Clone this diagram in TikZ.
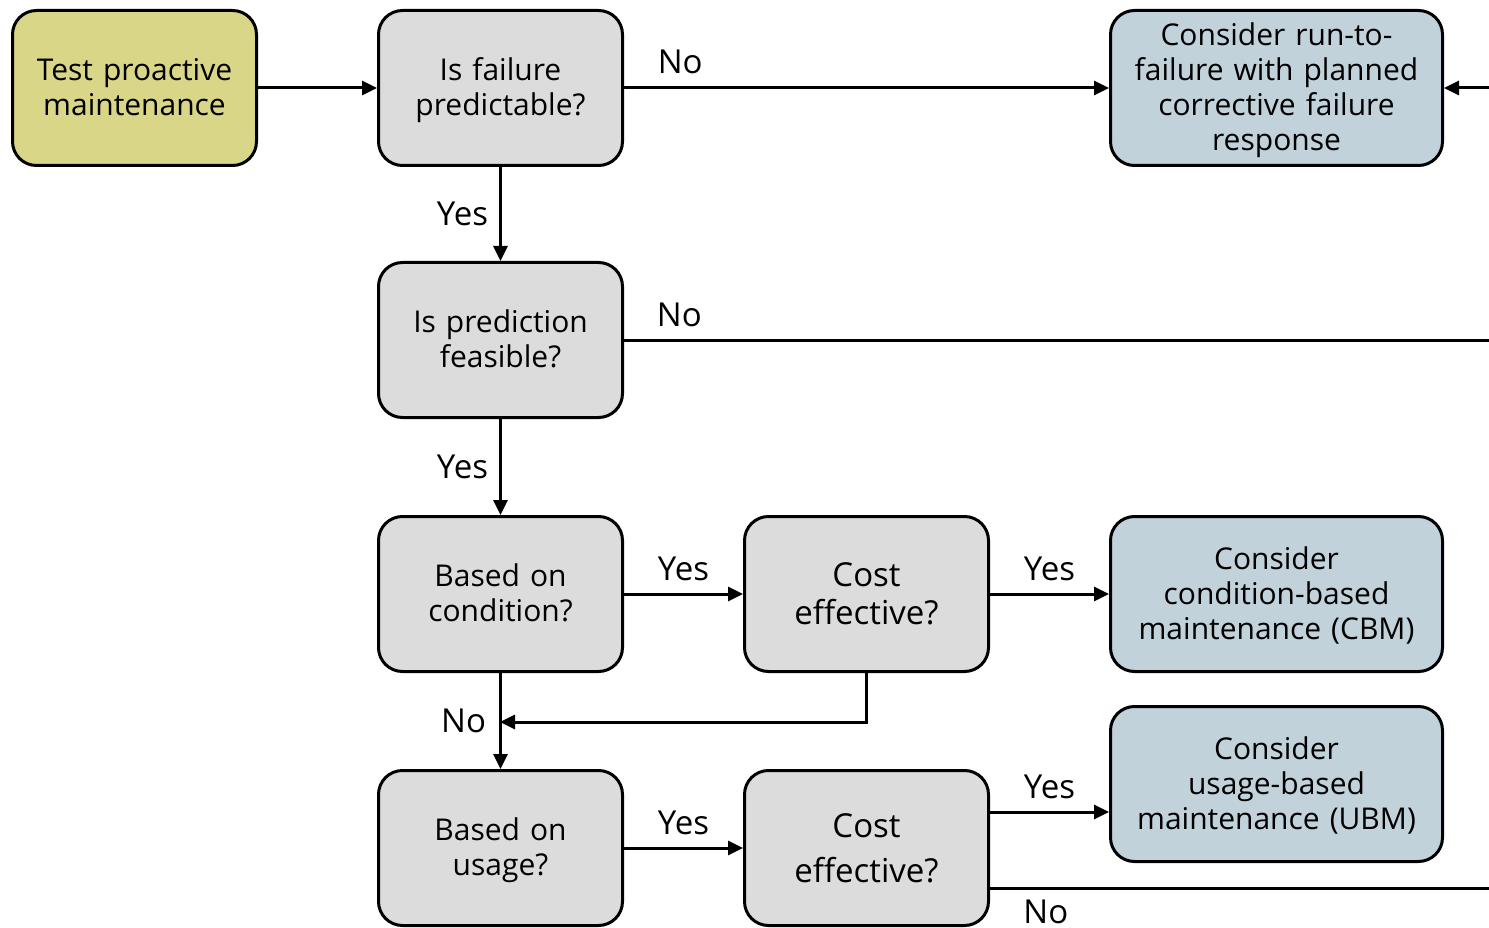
\documentclass[tikz,border=0pt]{standalone}
\usepackage{fontspec}
\setmainfont{Open Sans}
\usetikzlibrary{arrows.meta}
\definecolor{startfill}{HTML}{D9D687}
\definecolor{askfill}{HTML}{DCDCDC}
\definecolor{endfill}{HTML}{C1D2DA}
% invisible rule that fixes the height of the first and the depth of the last line
\newcommand\linefix[2]{\rule[-#1]{0pt}{#2}}
\tikzset{
  box/.style={draw=black, line width=3pt, rounded corners=24pt, align=center,
    minimum height=155pt, inner sep=0pt, font=\fontsize{30}{35}\selectfont,
    execute at begin node={\linefix{7pt}{34pt}},
    execute at end node={\linefix{7pt}{34pt}}},
  narrowbox/.style={box, minimum width=244pt, text width=240pt},
  widebox/.style={box, minimum width=332pt, text width=328pt, fill=endfill},
  askbox/.style={narrowbox, fill=askfill},
  costbox/.style={narrowbox, fill=askfill, font=\fontsize{33}{35}\selectfont,
    execute at begin node={\linefix{6pt}{36pt}},
    execute at end node={\linefix{6pt}{36pt}}},
  arr/.style={line width=3pt, -{Triangle[length=15pt,width=14pt]}},
  flow/.style={line width=3pt},
  lbl/.style={inner sep=0pt, font=\fontsize{33}{38}\selectfont},
  above lbl/.style={lbl, anchor=base, yshift=14pt},
  left lbl/.style={lbl, midway, anchor=east, xshift=-11pt},
}
\begin{document}
\begin{tikzpicture}[x=1pt,y=-1pt]
\useasboundingbox (0,0) rectangle (1489,928);

% boxes
\node[narrowbox, fill=startfill] (test) at (134.5,88) {Test proactive\\maintenance};
\node[askbox] (q1) at (500.5,88) {Is failure\\predictable?};
\node[widebox] (rtf) at (1276.5,88) {Consider run-to-\\failure with planned\\corrective failure\\response};
\node[askbox] (q2) at (500.5,340) {Is prediction\\feasible?};
\node[askbox] (q3) at (500.5,594) {Based on\\condition?};
\node[costbox] (c1) at (866.5,594) {Cost\\effective?};
\node[widebox] (cbm) at (1276.5,594) {Consider\\condition-based\\maintenance (CBM)};
\node[askbox] (q4) at (500.5,848) {Based on\\usage?};
\node[costbox, font=\fontsize{33}{45}\selectfont] (c2) at (866.5,848) {Cost\\effective?};
\node[widebox] (ubm) at (1276.5,784) {Consider\\usage-based\\maintenance (UBM)};

% free ends at the right margin
\coordinate (inR) at (1489,88);
\coordinate (outQ2) at (1489,340);
\coordinate (outC2) at (1489,888);
\coordinate (join) at (500,722);

% connectors
\draw[arr] (test.east) -- (q1.west);
\draw[arr] (q1.east) -- (rtf.west)
  node[above lbl, pos=0.116] {No};
\draw[arr] (inR) -- (rtf.east);
\draw[arr] (q1.south) -- (q2.north)
  node[left lbl] {Yes};
\draw[flow] (q2.east) -- (outQ2)
  node[above lbl, pos=0.064] {No};
\draw[arr] (q2.south) -- (q3.north)
  node[left lbl] {Yes};
\draw[arr] (q3.east) -- (c1.west)
  node[above lbl, midway] {Yes};
\draw[arr] (c1.east) -- (cbm.west)
  node[above lbl, midway] {Yes};
\draw[arr] (q3.south) -- (q4.north)
  node[left lbl, xshift=-2pt] {No};
\draw[arr] (c1.south) |- (join);
\draw[arr] (q4.east) -- (c2.west)
  node[above lbl, midway] {Yes};
\draw[arr] (c2.east |- ubm.west) ++(0,28) coordinate (c2y) -- (ubm.west |- c2y)
  node[above lbl, midway] {Yes};
\draw[flow] (c2.east |- outC2) -- (outC2)
  node[lbl, pos=0.112, anchor=north, yshift=-10pt] {No};
\end{tikzpicture}
\end{document}
